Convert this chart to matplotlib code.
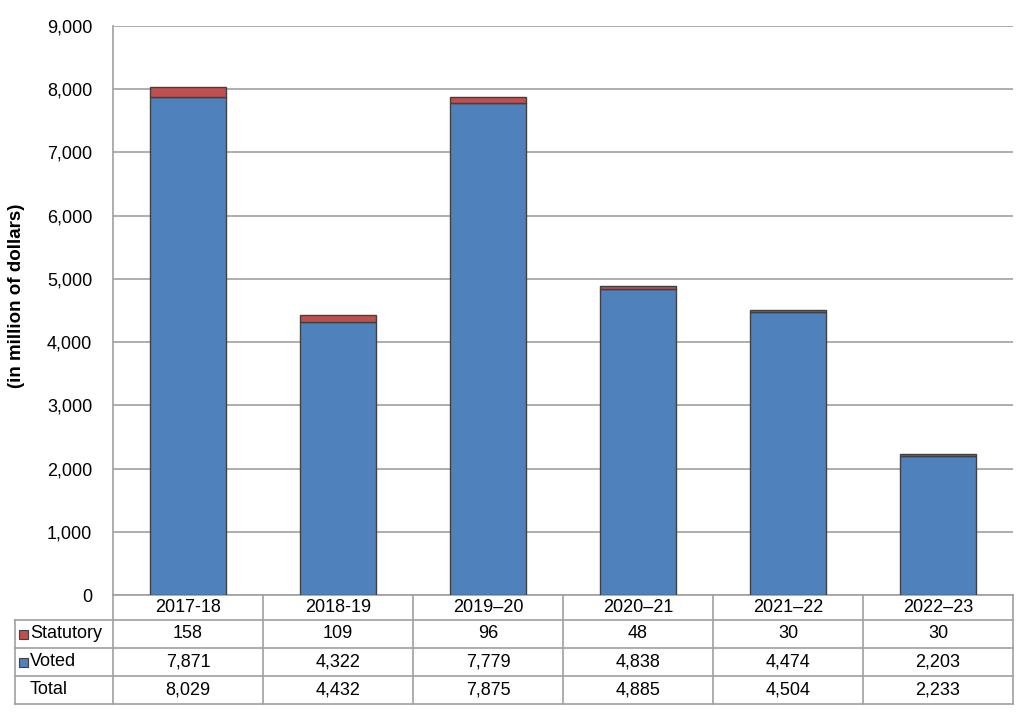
import matplotlib
matplotlib.use('Agg')
import matplotlib.pyplot as plt
from matplotlib.patches import Rectangle

years = ['2017-18', '2018-19', '2019\u201320', '2020\u201321', '2021\u201322', '2022\u201323']
statutory = [158, 109, 96, 48, 30, 30]
voted = [7871, 4322, 7779, 4838, 4474, 2203]
total = [8029, 4432, 7875, 4885, 4504, 2233]

blue = '#4F81BD'
red = '#C0504D'
grid_c = '#A0A0A0'
fs = 13

plt.rcParams['font.family'] = ['Liberation Sans', 'DejaVu Sans']

fig = plt.figure(figsize=(10.2, 7.16), dpi=100)
ax = fig.add_axes([113 / 1020, 121 / 716, 900 / 1020, 569 / 716])

x = list(range(len(years)))
ax.bar(x, voted, width=0.51, color=blue, edgecolor='#404040', linewidth=1, zorder=3)
ax.bar(x, statutory, width=0.51, bottom=voted, color=red, edgecolor='#404040',
       linewidth=1, zorder=3)

ax.set_xlim(-0.5, len(years) - 0.5)
ax.set_ylim(0, 9000)
ax.set_yticks(range(0, 9001, 1000))
ax.set_yticklabels(['{:,}'.format(v) for v in range(0, 9001, 1000)], fontsize=fs)
ax.set_xticks([])
ax.yaxis.grid(True, color=grid_c, linewidth=1.2, zorder=0)
ax.tick_params(axis='y', length=0, pad=15)
for s in ['top', 'right', 'bottom']:
    ax.spines[s].set_visible(False)
ax.spines['left'].set_color(grid_c)
ax.spines['left'].set_linewidth(1.2)
ax.set_ylabel('(in million of dollars)', fontsize=13.5, fontweight='bold')
ax.yaxis.set_label_coords(-0.098, 0.525)

# data table under the axes, in axes coordinates
h = 569.0
rows_y = [0, -25 / h, -53 / h, -81 / h, -109 / h]
left = -98 / 900
tr = ax.transAxes
line_kw = dict(color=grid_c, linewidth=1.2, transform=tr, clip_on=False)

ax.plot([0, 1], [rows_y[0], rows_y[0]], **line_kw)
for yy in rows_y[1:]:
    ax.plot([left, 1], [yy, yy], **line_kw)
for i in range(len(years) + 1):
    xx = i / len(years)
    ax.plot([xx, xx], [rows_y[0], rows_y[-1]], **line_kw)
ax.plot([left, left], [rows_y[1], rows_y[-1]], **line_kw)

row_vals = [statutory, voted, total]
row_names = ['Statutory', 'Voted', 'Total']
row_cols = [red, blue, None]

for i, yr in enumerate(years):
    cx = (i + 0.5) / len(years)
    ax.text(cx, (rows_y[0] + rows_y[1]) / 2, yr, transform=tr, ha='center',
            va='center', fontsize=fs)
    for r in range(3):
        ax.text(cx, (rows_y[r + 1] + rows_y[r + 2]) / 2, '{:,}'.format(row_vals[r][i]),
                transform=tr, ha='center', va='center', fontsize=fs)

sq_w = 9 / 900
sq_h = 9 / h
for r in range(3):
    cy = (rows_y[r + 1] + rows_y[r + 2]) / 2
    if row_cols[r] is not None:
        ax.add_patch(Rectangle((-94 / 900, cy - sq_h / 2), sq_w, sq_h, facecolor=row_cols[r],
                               edgecolor='#404040', linewidth=0.8, transform=tr,
                               clip_on=False))
    ax.text(-83 / 900, cy, row_names[r], transform=tr, ha='left', va='center', fontsize=fs)

fig.savefig('out.png', dpi=100)
